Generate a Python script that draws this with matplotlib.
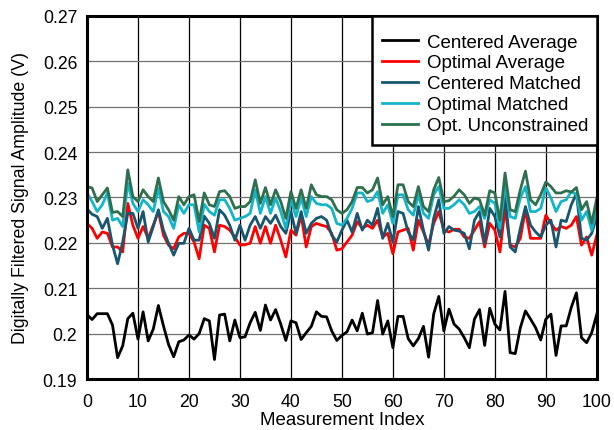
import numpy as np
import matplotlib.pyplot as plt
from matplotlib.patches import Rectangle

plt.rcParams['font.family'] = ['Liberation Sans', 'DejaVu Sans']

index = np.arange(101)

centered_average = [
    0.2042, 0.2031, 0.2044, 0.2044, 0.2044, 0.2019, 0.1947, 0.1973, 0.2033, 0.2045,
    0.1988, 0.2048, 0.1984, 0.2010, 0.2062, 0.2017, 0.1976, 0.1949, 0.1982, 0.1986,
    0.1997, 0.1988, 0.2000, 0.2033, 0.2028, 0.1943, 0.2041, 0.2043, 0.1984, 0.2030,
    0.1991, 0.1993, 0.2024, 0.2047, 0.2007, 0.2063, 0.2030, 0.2053, 0.2021, 0.1985,
    0.2028, 0.2024, 0.1987, 0.2002, 0.2016, 0.2048, 0.2038, 0.2037, 0.2006, 0.1985,
    0.1996, 0.2004, 0.2030, 0.2006, 0.2045, 0.1999, 0.2002, 0.2073, 0.1999, 0.2028,
    0.1969, 0.2038, 0.2038, 0.1989, 0.1973, 0.1989, 0.2016, 0.1948, 0.2043, 0.2082,
    0.2006, 0.2054, 0.2021, 0.2010, 0.1991, 0.1969, 0.2032, 0.2053, 0.1974, 0.2056,
    0.2021, 0.2008, 0.2093, 0.1958, 0.1956, 0.2013, 0.2050, 0.2032, 0.2013, 0.1986,
    0.2032, 0.2043, 0.1952, 0.2017, 0.2017, 0.2058, 0.2090, 0.1991, 0.1980, 0.2002,
    0.2043,
]

optimal_average = [
    0.2243, 0.2232, 0.2210, 0.2224, 0.2221, 0.2191, 0.2191, 0.2180, 0.2287, 0.2239,
    0.2210, 0.2236, 0.2210, 0.2239, 0.2269, 0.2217, 0.2195, 0.2187, 0.2213, 0.2221,
    0.2221, 0.2202, 0.2165, 0.2239, 0.2232, 0.2180, 0.2239, 0.2236, 0.2228, 0.2213,
    0.2195, 0.2196, 0.2199, 0.2236, 0.2199, 0.2236, 0.2199, 0.2239, 0.2206, 0.2169,
    0.2228, 0.2217, 0.2261, 0.2191, 0.2236, 0.2243, 0.2239, 0.2236, 0.2221, 0.2184,
    0.2187, 0.2202, 0.2217, 0.2247, 0.2232, 0.2239, 0.2232, 0.2250, 0.2213, 0.2221,
    0.2176, 0.2224, 0.2228, 0.2232, 0.2184, 0.2250, 0.2224, 0.2195, 0.2243, 0.2269,
    0.2228, 0.2224, 0.2230, 0.2230, 0.2213, 0.2210, 0.2228, 0.2247, 0.2191, 0.2243,
    0.2228, 0.2180, 0.2276, 0.2195, 0.2191, 0.2210, 0.2273, 0.2210, 0.2210, 0.2210,
    0.2261, 0.2243, 0.2228, 0.2236, 0.2232, 0.2239, 0.2258, 0.2195, 0.2213, 0.2173,
    0.2217,
]

centered_matched = [
    0.2275, 0.2263, 0.2258, 0.2232, 0.2254, 0.2195, 0.2154, 0.2202, 0.2265, 0.2265,
    0.2232, 0.2269, 0.2202, 0.2236, 0.2273, 0.2228, 0.2199, 0.2173, 0.2199, 0.2199,
    0.2232, 0.2206, 0.2206, 0.2259, 0.2243, 0.2210, 0.2273, 0.2261, 0.2239, 0.2206,
    0.2239, 0.2206, 0.2239, 0.2258, 0.2232, 0.2258, 0.2243, 0.2261, 0.2236, 0.2221,
    0.2269, 0.2221, 0.2269, 0.2221, 0.2243, 0.2254, 0.2258, 0.2250, 0.2217, 0.2202,
    0.2228, 0.2250, 0.2224, 0.2265, 0.2228, 0.2250, 0.2239, 0.2276, 0.2210, 0.2243,
    0.2202, 0.2269, 0.2265, 0.2224, 0.2206, 0.2280, 0.2228, 0.2184, 0.2254, 0.2295,
    0.2221, 0.2236, 0.2228, 0.2226, 0.2221, 0.2187, 0.2250, 0.2269, 0.2199, 0.2276,
    0.2258, 0.2213, 0.2306, 0.2191, 0.2180, 0.2232, 0.2280, 0.2239, 0.2224, 0.2213,
    0.2239, 0.2250, 0.2191, 0.2250, 0.2247, 0.2284, 0.2309, 0.2210, 0.2206, 0.2221,
    0.2258,
]

optimal_matched = [
    0.2310, 0.2291, 0.2269, 0.2284, 0.2310, 0.2250, 0.2254, 0.2236, 0.2332, 0.2287,
    0.2269, 0.2295, 0.2284, 0.2269, 0.2321, 0.2269, 0.2258, 0.2232, 0.2284, 0.2265,
    0.2284, 0.2284, 0.2224, 0.2285, 0.2269, 0.2261, 0.2295, 0.2295, 0.2276, 0.2250,
    0.2254, 0.2258, 0.2265, 0.2317, 0.2265, 0.2302, 0.2265, 0.2299, 0.2269, 0.2232,
    0.2295, 0.2258, 0.2299, 0.2258, 0.2302, 0.2287, 0.2284, 0.2284, 0.2276, 0.2243,
    0.2239, 0.2254, 0.2276, 0.2310, 0.2310, 0.2291, 0.2295, 0.2313, 0.2265, 0.2284,
    0.2243, 0.2306, 0.2306, 0.2273, 0.2261, 0.2306, 0.2265, 0.2254, 0.2306, 0.2324,
    0.2276, 0.2276, 0.2284, 0.2295, 0.2284, 0.2265, 0.2269, 0.2280, 0.2254, 0.2295,
    0.2287, 0.2232, 0.2328, 0.2258, 0.2254, 0.2299, 0.2324, 0.2269, 0.2269, 0.2276,
    0.2321, 0.2299, 0.2269, 0.2291, 0.2295, 0.2313, 0.2306, 0.2250, 0.2269, 0.2228,
    0.2276,
]

opt_unconstrained = [
    0.2324, 0.2321, 0.2291, 0.2306, 0.2321, 0.2267, 0.2269, 0.2258, 0.2361, 0.2302,
    0.2291, 0.2317, 0.2302, 0.2291, 0.2343, 0.2291, 0.2273, 0.2250, 0.2302, 0.2284,
    0.2302, 0.2306, 0.2247, 0.2310, 0.2284, 0.2280, 0.2313, 0.2315, 0.2302, 0.2276,
    0.2280, 0.2280, 0.2291, 0.2339, 0.2287, 0.2322, 0.2284, 0.2317, 0.2291, 0.2254,
    0.2313, 0.2276, 0.2317, 0.2276, 0.2328, 0.2306, 0.2302, 0.2302, 0.2295, 0.2273,
    0.2265, 0.2273, 0.2291, 0.2322, 0.2322, 0.2310, 0.2317, 0.2343, 0.2284, 0.2302,
    0.2258, 0.2328, 0.2328, 0.2291, 0.2280, 0.2324, 0.2280, 0.2269, 0.2317, 0.2344,
    0.2291, 0.2293, 0.2303, 0.2317, 0.2306, 0.2287, 0.2299, 0.2295, 0.2261, 0.2315,
    0.2310, 0.2250, 0.2354, 0.2273, 0.2269, 0.2317, 0.2358, 0.2295, 0.2284, 0.2306,
    0.2334, 0.2324, 0.2310, 0.2310, 0.2315, 0.2312, 0.2322, 0.2273, 0.2291, 0.2243,
    0.2299,
]

series = [
    ('Centered Average', centered_average, '#000000'),
    ('Optimal Average', optimal_average, '#ff0000'),
    ('Centered Matched', centered_matched, '#17566e'),
    ('Optimal Matched', optimal_matched, '#13b5c9'),
    ('Opt. Unconstrained', opt_unconstrained, '#2e6f4e'),
]

fig = plt.figure(figsize=(6.14, 4.31), dpi=100)
ax = fig.add_axes([0.1417, 0.1183, 0.8303, 0.8423])

for label, values, color in series:
    ax.plot(index, values, color=color, lw=2.0, label=label)

ax.set_xlim(0, 100)
ax.set_ylim(0.19, 0.27)
ax.set_xticks(np.arange(0, 101, 10))
ax.set_yticks(np.arange(0.19, 0.2701, 0.01))
ax.set_yticklabels(['0.19', '0.2', '0.21', '0.22', '0.23', '0.24', '0.25', '0.26', '0.27'])

ax.xaxis.grid(True, color='black', lw=0.9)
ax.yaxis.grid(True, color='#707070', lw=0.9)
ax.set_axisbelow(True)
ax.tick_params(length=0, labelsize=12.7)
ax.tick_params(axis='y', pad=7)
ax.tick_params(axis='x', pad=10)
for sp in ax.spines.values():
    sp.set_linewidth(2.2)

ax.set_xlabel('Measurement Index', fontsize=13.4, labelpad=1)
ax.set_ylabel('Digitally Filtered Signal Amplitude (V)', fontsize=12.8, labelpad=10)

# legend box drawn separately so its padding can be taller than wide
ax.add_patch(Rectangle((0.559, 0.6446), 0.441, 0.3554, transform=ax.transAxes,
                       facecolor='white', edgecolor='black', lw=1.8, zorder=4))
leg = ax.legend(loc='upper right', bbox_to_anchor=(1.0, 0.975), fontsize=13.5,
                frameon=False, handlelength=1.9, borderaxespad=0,
                labelspacing=0.2, handletextpad=0.5, borderpad=0.45)
leg.set_zorder(5)

fig.savefig('out.png', dpi=100)
